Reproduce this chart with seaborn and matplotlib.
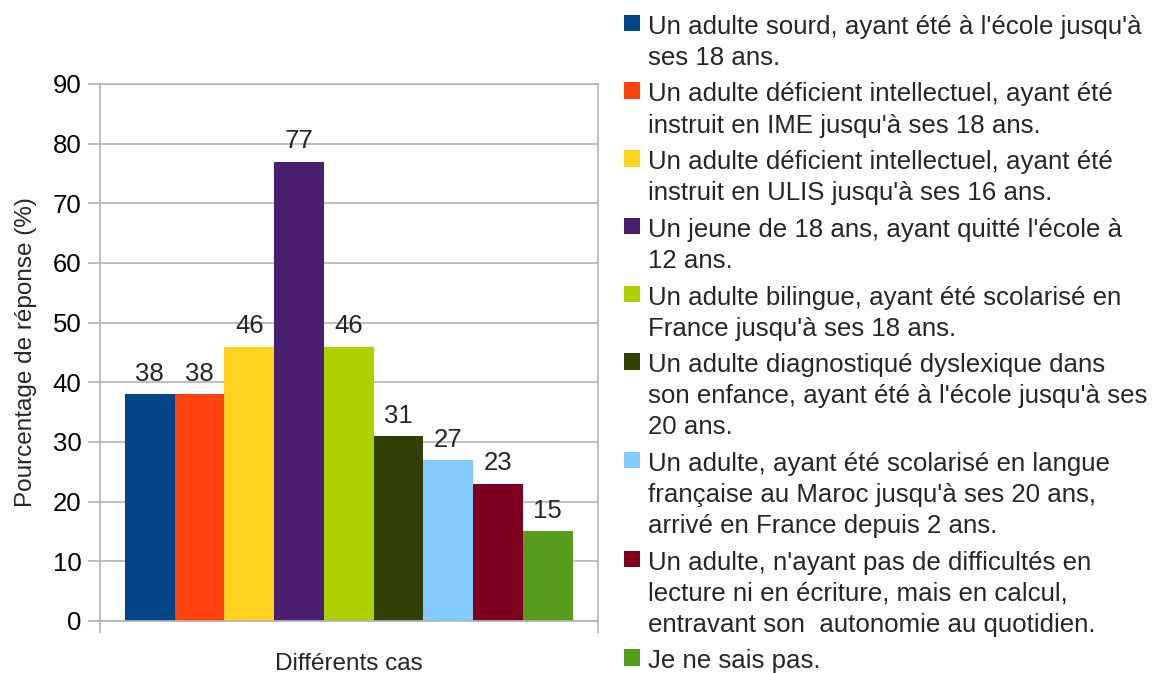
import numpy as np
import pandas as pd
import matplotlib
matplotlib.use('Agg')
import matplotlib.pyplot as plt
from matplotlib.patches import Patch
import seaborn as sns

# Données
cas = [
    "Un adulte sourd, ayant été à l'école jusqu'à\nses 18 ans.",
    "Un adulte déficient intellectuel, ayant été\ninstruit en IME jusqu'à ses 18 ans.",
    "Un adulte déficient intellectuel, ayant été\ninstruit en ULIS jusqu'à ses 16 ans.",
    "Un jeune de 18 ans, ayant quitté l'école à\n12 ans.",
    "Un adulte bilingue, ayant été scolarisé en\nFrance jusqu'à ses 18 ans.",
    "Un adulte diagnostiqué dyslexique dans\nson enfance, ayant été à l'école jusqu'à ses\n20 ans.",
    "Un adulte, ayant été scolarisé en langue\nfrançaise au Maroc jusqu'à ses 20 ans,\narrivé en France depuis 2 ans.",
    "Un adulte, n'ayant pas de difficultés en\nlecture ni en écriture, mais en calcul,\nentravant son  autonomie au quotidien.",
    "Je ne sais pas.",
]
pourcentages = [38, 38, 46, 77, 46, 31, 27, 23, 15]
couleurs = ['#004586', '#ff420e', '#ffd320', '#4b1f6f', '#aecf00',
            '#314004', '#83caff', '#7e0021', '#579d1c']
categorie = "Différents cas"
y_ticks = list(range(0, 91, 10))

df = pd.DataFrame({'groupe': [categorie] * len(cas), 'cas': cas, 'pct': pourcentages})

# Style
sns.set_theme(style='white')
plt.rcParams['font.family'] = ['Liberation Sans', 'DejaVu Sans']
gris = '#b3b3b3'

fig = plt.figure(figsize=(11.63, 6.73), dpi=100)
ax = fig.add_axes([0.086, 0.0773, 0.4278, 0.7979])

sns.barplot(data=df, x='groupe', y='pct', hue='cas', palette=couleurs,
            width=0.9, saturation=1, legend=False, linewidth=0, ax=ax)

# Étiquettes des barres
for cont in ax.containers:
    ax.bar_label(cont, fmt='%d', padding=6, fontsize=18.5)

ax.set_ylim(0, 90)
ax.set_yticks(y_ticks)
ax.set_xlim(-0.5, 0.5)
ax.set_xticks([-0.5, 0.5])
ax.set_xticklabels(['', ''])
ax.yaxis.grid(True, color=gris, linewidth=1.2)
ax.set_axisbelow(True)
for side, sp in ax.spines.items():
    sp.set_color(gris)
    sp.set_linewidth(1.2)
ax.tick_params(axis='both', colors=gris, length=8.5, width=1.2, direction='out',
               left=True, bottom=True)
ax.tick_params(axis='y', labelcolor='black', labelsize=18.5, pad=5)

ax.set_ylabel('Pourcentage de réponse (%)', fontsize=17.5, labelpad=11)
ax.set_xlabel(categorie, fontsize=17.5, labelpad=11)

# Légende à droite
handles = [Patch(facecolor=c, edgecolor='none') for c in couleurs]
leg = fig.legend(handles, cas, loc='upper left', bbox_to_anchor=(0.5366, 0.978),
                 frameon=False, fontsize=18.6, handlelength=0.6, handleheight=0.6,
                 handletextpad=0.33, labelspacing=0.49, borderpad=0, borderaxespad=0)
for col in leg._legend_handle_box.get_children():
    for row in col.get_children():
        row.align = 'top'
for t in leg.get_texts():
    t.set_linespacing(1.37)

fig.savefig('out.png', dpi=100)
